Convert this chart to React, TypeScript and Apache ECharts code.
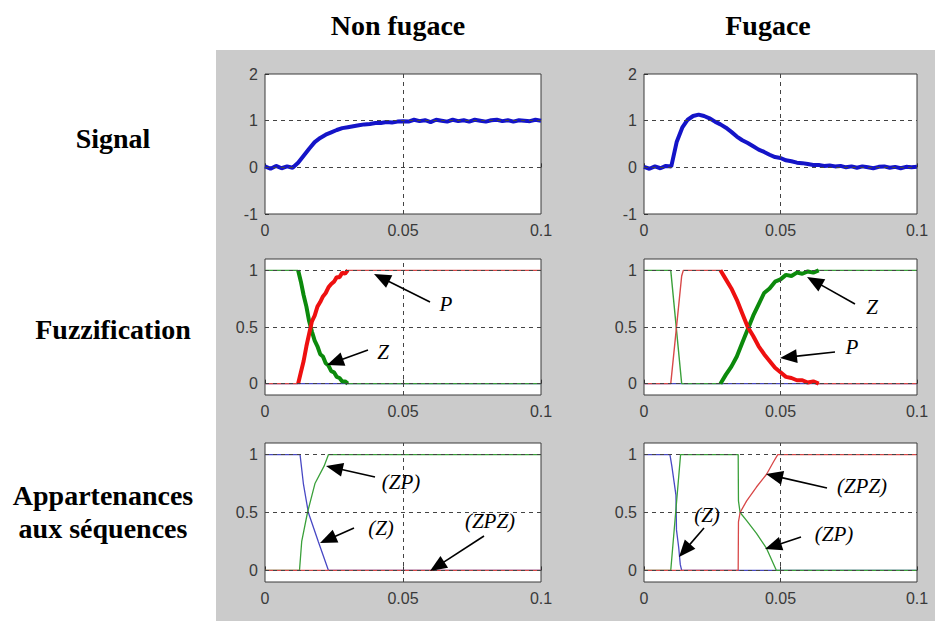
import React, { useEffect, useRef } from "react";
import * as echarts from "echarts";

// ---------- data ----------
const COL_TITLES = ["Non fugace", "Fugace"];
const ROW_TITLES = ["Signal", "Fuzzification", "Appartenances", "aux séquences"];
const X_TICKS = [0, 0.05, 0.1];
const Y_TICKS_SIG = [-1, 0, 1, 2];
const Y_TICKS_MF = [0, 0.5, 1];

// signal sample times
const T_SIG = [
  0, 0.002, 0.004, 0.006, 0.008, 0.01, 0.012, 0.014, 0.016, 0.018, 0.02, 0.022, 0.024, 0.026, 0.028, 0.03,
  0.032, 0.034, 0.036, 0.038, 0.04, 0.042, 0.044, 0.046, 0.048, 0.05, 0.052, 0.054, 0.056, 0.058, 0.06,
  0.062, 0.064, 0.066, 0.068, 0.07, 0.072, 0.074, 0.076, 0.078, 0.08, 0.082, 0.084, 0.086, 0.088, 0.09,
  0.092, 0.094, 0.096, 0.098, 0.1,
];
const SIG_NF = [
  0.02, -0.03, 0.03, -0.02, 0.02, -0.01, 0.1, 0.25, 0.4, 0.54, 0.63, 0.7, 0.75, 0.8, 0.84, 0.86, 0.88, 0.9,
  0.92, 0.93, 0.95, 0.95, 0.97, 0.96, 0.98, 0.99, 0.98, 1.02, 0.99, 1.01, 0.97, 1.02, 1.0, 0.98, 1.02, 0.99,
  1.01, 0.98, 1.02, 1.0, 0.98, 1.01, 1.02, 0.99, 1.01, 0.98, 1.01, 1.0, 0.99, 1.02, 1.0,
];
const SIG_F = [
  0.01, -0.03, 0.02, -0.02, 0.03, 0.02, 0.55, 0.85, 1.02, 1.1, 1.13, 1.1, 1.05, 0.98, 0.92, 0.85, 0.76, 0.66,
  0.58, 0.52, 0.45, 0.38, 0.33, 0.27, 0.22, 0.2, 0.15, 0.13, 0.1, 0.09, 0.07, 0.05, 0.05, 0.03, 0.04, 0.02,
  0.03, 0.0, 0.02, -0.01, 0.02, 0.0, -0.02, 0.01, 0.02, -0.01, 0.01, -0.02, 0.01, 0.0, 0.01,
];

// Fuzzification, non fugace: transition part
const FZ_NF_T = [
  0.012, 0.013, 0.014, 0.015, 0.016, 0.017, 0.018, 0.019, 0.02, 0.021, 0.022, 0.023, 0.024, 0.025, 0.026,
  0.027, 0.028, 0.029, 0.03,
];
const FZ_NF_Z = [1.0, 0.9, 0.78, 0.68, 0.55, 0.46, 0.38, 0.33, 0.26, 0.24, 0.18, 0.16, 0.11, 0.1, 0.06, 0.05, 0.02, 0.02, 0.0];
const FZ_NF_P = [0.0, 0.1, 0.2, 0.33, 0.44, 0.55, 0.6, 0.68, 0.72, 0.77, 0.8, 0.85, 0.88, 0.9, 0.94, 0.94, 0.98, 0.97, 1.0];
const FZ_NF_N = [0, 0];

// Fuzzification, fugace
const FZ_F_EARLY_T = [0, 0.0095, 0.0098, 0.0138, 0.0144];
const FZ_F_Z_EARLY = [1, 1, 1, 0, 0];
const FZ_F_P_EARLY = [0, 0, 0, 0.95, 1];
const FZ_F_T = [
  0.028, 0.03, 0.032, 0.034, 0.036, 0.038, 0.04, 0.042, 0.044, 0.046, 0.048, 0.05, 0.052, 0.054, 0.056, 0.058,
  0.06, 0.062, 0.064,
];
const FZ_F_Z = [0, 0.08, 0.15, 0.24, 0.36, 0.48, 0.6, 0.7, 0.8, 0.84, 0.9, 0.92, 0.96, 0.95, 0.98, 0.97, 0.99, 0.98, 1.0];
const FZ_F_P = [1, 0.92, 0.84, 0.74, 0.62, 0.5, 0.42, 0.33, 0.26, 0.2, 0.14, 0.1, 0.06, 0.05, 0.03, 0.03, 0.01, 0.02, 0];

// Appartenances aux séquences, non fugace
const AP_NF_Z_T = [0, 0.0127, 0.0139, 0.0157, 0.0193, 0.023, 0.1];
const AP_NF_Z = [1, 1, 0.75, 0.5, 0.25, 0, 0];
const AP_NF_ZP_T = [0, 0.0125, 0.0133, 0.0154, 0.0181, 0.0214, 0.023, 0.1];
const AP_NF_ZP = [0, 0, 0.25, 0.5, 0.75, 0.9, 1, 1];
const AP_NF_ZPZ_T = [0, 0.1];
const AP_NF_ZPZ = [0, 0];

// Appartenances aux séquences, fugace
const AP_F_Z_T = [0, 0.0095, 0.0102, 0.0117, 0.0119, 0.0127, 0.0133, 0.0138, 0.1];
const AP_F_Z = [1, 1, 0.9, 0.65, 0.35, 0.2, 0.05, 0, 0];
const AP_F_ZP_T = [0, 0.0098, 0.0134, 0.0345, 0.0346, 0.0352, 0.0376, 0.0412, 0.0449, 0.0485, 0.1];
const AP_F_ZP = [0, 0, 1, 1, 0.6, 0.5, 0.43, 0.32, 0.19, 0, 0];
const AP_F_ZPZ_T = [0, 0.0345, 0.0346, 0.0352, 0.0376, 0.0412, 0.0449, 0.0475, 0.049, 0.1];
const AP_F_ZPZ = [0, 0, 0.42, 0.5, 0.6, 0.72, 0.83, 0.94, 1, 1];

// annotations: [label, labelX, labelY, arrowStartX, arrowStartY, arrowTipX, arrowTipY]
const ANNOTATIONS: [string, number, number, number, number, number, number][] = [
  ["P", 446, 304, 430, 302, 374, 274],
  ["Z", 383, 352, 368, 350, 327, 365],
  ["Z", 872, 307, 855, 304, 807, 277],
  ["P", 852, 347, 835, 352, 780, 358],
  ["(ZP)", 401, 482, 375, 477, 326, 466],
  ["(Z)", 381, 528, 354, 528, 320, 543],
  ["(ZPZ)", 490, 521, 484, 536, 430, 571],
  ["(ZPZ)", 862, 486, 827, 488, 766, 474],
  ["(Z)", 707, 515, 704, 528, 679, 557],
  ["(ZP)", 834, 534, 801, 537, 765, 549],
];

// ---------- layout / styles ----------
const GRIDS = [
  { left: 265, top: 74, width: 276, height: 140 },
  { left: 644, top: 74, width: 273, height: 140 },
  { left: 265, top: 259, width: 276, height: 136 },
  { left: 644, top: 259, width: 273, height: 136 },
  { left: 265, top: 443, width: 276, height: 139 },
  { left: 644, top: 443, width: 273, height: 139 },
];
const BLUE = "#1414c8";
const BLUE_T = "#4848c4";
const GREEN = "#0c8a0c";
const GREEN_T = "#3aa03a";
const RED = "#ee1010";
const RED_T = "#d84848";
const SERIF = '"Liberation Serif", "Times New Roman", serif';
const SANS = '"Liberation Sans", Arial, sans-serif';

const zip = (t: number[], v: number[]) => t.map((x, i) => [x, v[i]]);

function line(gi: number, data: number[][], color: string, width: number, extra: any = {}) {
  return {
    type: "line",
    xAxisIndex: gi,
    yAxisIndex: gi,
    data,
    symbol: "none",
    silent: true,
    animation: false,
    lineStyle: { color, width },
    ...extra,
  };
}

function gridLines(ys: number[]) {
  return {
    markLine: {
      silent: true,
      symbol: "none",
      animation: false,
      label: { show: false },
      lineStyle: { color: "#444", width: 1, type: [4, 4] },
      data: [...ys.map((y) => ({ yAxis: y })), { xAxis: 0.05 }],
    },
  };
}

function arrow(x1: number, y1: number, x2: number, y2: number) {
  const dx = x2 - x1;
  const dy = y2 - y1;
  const L = Math.hypot(dx, dy);
  const ux = dx / L;
  const uy = dy / L;
  const hl = 17;
  const hw = 7;
  const bx = x2 - ux * hl;
  const by = y2 - uy * hl;
  const px = -uy;
  const py = ux;
  return [
    { type: "line", z: 100, shape: { x1, y1, x2: bx + ux * 2, y2: by + uy * 2 }, style: { stroke: "#000", lineWidth: 1.6 } },
    {
      type: "polygon",
      z: 100,
      shape: { points: [[x2, y2], [bx + px * hw, by + py * hw], [bx - px * hw, by - py * hw]] },
      style: { fill: "#000" },
    },
  ];
}

function text(t: string, x: number, y: number, size: number, bold: boolean, italic: boolean) {
  return {
    type: "text",
    z: 100,
    x,
    y,
    style: {
      text: t,
      fill: "#000",
      fontSize: size,
      fontFamily: SERIF,
      fontWeight: bold ? "bold" : "normal",
      fontStyle: italic ? "italic" : "normal",
      align: "center",
      verticalAlign: "middle",
      textAlign: "center",
      textVerticalAlign: "middle",
    },
  };
}

function buildOption() {
  const xAxis = GRIDS.map((_, i) => ({
    type: "value",
    gridIndex: i,
    min: 0,
    max: 0.1,
    interval: 0.05,
    splitLine: { show: false },
    axisLine: { show: false },
    axisTick: { show: true, inside: true, length: 4, lineStyle: { color: "#333" } },
    axisLabel: {
      margin: 8,
      fontSize: 16,
      color: "#3a3a3a",
      fontFamily: SANS,
      formatter: (v: number) => {
        const k = X_TICKS.findIndex((t) => Math.abs(t - v) < 1e-9);
        return k === 0 ? "0" : k === 1 ? "0.05" : k === 2 ? "0.1" : "";
      },
    },
  }));
  const yAxis = GRIDS.map((_, i) => {
    const base: any = {
      type: "value",
      gridIndex: i,
      splitLine: { show: false },
      axisLine: { show: false },
    };
    if (i < 2) {
      return {
        ...base,
        min: Y_TICKS_SIG[0],
        max: Y_TICKS_SIG[3],
        interval: 1,
        axisTick: { show: true, inside: true, length: 4, lineStyle: { color: "#333" } },
        axisLabel: { margin: 7, fontSize: 16, color: "#3a3a3a", fontFamily: SANS },
      };
    }
    return {
      ...base,
      min: -0.1,
      max: 1.1,
      axisTick: { show: true, inside: true, length: 4, customValues: Y_TICKS_MF, lineStyle: { color: "#333" } },
      axisLabel: {
        margin: 7,
        fontSize: 16,
        color: "#3a3a3a",
        fontFamily: SANS,
        customValues: Y_TICKS_MF,
        formatter: (v: number) => (Math.abs(v - 0.5) < 1e-9 ? "0.5" : String(Math.round(v))),
      },
    };
  });

  const series: any[] = [
    // row 1: signals
    line(0, zip(T_SIG, SIG_NF), BLUE, 4, gridLines([0, 1])),
    line(1, zip(T_SIG, SIG_F), BLUE, 4, gridLines([0, 1])),

    // row 2: fuzzification non fugace
    line(2, zip([0, 0.1], FZ_NF_N), BLUE_T, 1.2, gridLines([0, 0.5, 1])),
    line(2, [[0, 1], ...zip(FZ_NF_T, FZ_NF_Z), [0.1, 0]], GREEN_T, 1.2),
    line(2, zip(FZ_NF_T, FZ_NF_Z), GREEN, 4),
    line(2, [[0, 0], ...zip(FZ_NF_T, FZ_NF_P), [0.1, 1]], RED_T, 1.2),
    line(2, zip(FZ_NF_T, FZ_NF_P), RED, 4),

    // row 2: fuzzification fugace
    line(3, zip([0, 0.1], FZ_NF_N), BLUE_T, 1.2, gridLines([0, 0.5, 1])),
    line(3, [...zip(FZ_F_EARLY_T, FZ_F_Z_EARLY), ...zip(FZ_F_T, FZ_F_Z), [0.1, 1]], GREEN_T, 1.4),
    line(3, zip(FZ_F_T, FZ_F_Z), GREEN, 4),
    line(3, [...zip(FZ_F_EARLY_T, FZ_F_P_EARLY), ...zip(FZ_F_T, FZ_F_P), [0.1, 0]], RED_T, 1.4),
    line(3, zip(FZ_F_T, FZ_F_P), RED, 4),

    // row 3: appartenances non fugace
    line(4, zip(AP_NF_Z_T, AP_NF_Z), BLUE_T, 1.3, gridLines([0, 0.5, 1])),
    line(4, zip(AP_NF_ZP_T, AP_NF_ZP), GREEN_T, 1.3),
    line(4, zip(AP_NF_ZPZ_T, AP_NF_ZPZ), RED_T, 1.3),

    // row 3: appartenances fugace
    line(5, zip(AP_F_Z_T, AP_F_Z), BLUE_T, 1.3, gridLines([0, 0.5, 1])),
    line(5, zip(AP_F_ZP_T, AP_F_ZP), GREEN_T, 1.3),
    line(5, zip(AP_F_ZPZ_T, AP_F_ZPZ), RED_T, 1.3),
  ];

  const graphics: any[] = [
    text(COL_TITLES[0], 398, 25, 28, true, false),
    text(COL_TITLES[1], 768, 25, 28, true, false),
    text(ROW_TITLES[0], 113, 138, 28, true, false),
    text(ROW_TITLES[1], 113, 329, 28, true, false),
    text(ROW_TITLES[2], 103, 495, 28, true, false),
    text(ROW_TITLES[3], 103, 528, 28, true, false),
  ];
  ANNOTATIONS.forEach(([label, lx, ly, sx, sy, tx, ty]) => {
    graphics.push(...arrow(sx, sy, tx, ty));
    graphics.push(text(label, lx, ly, 21, false, true));
  });

  return {
    animation: false,
    backgroundColor: "transparent",
    grid: GRIDS.map((g) => ({
      ...g,
      show: true,
      backgroundColor: "#ffffff",
      borderColor: "#3a3a3a",
      borderWidth: 1,
      containLabel: false,
    })),
    xAxis,
    yAxis,
    series,
    graphic: { elements: graphics },
  };
}

export default function App() {
  const ref = useRef<HTMLDivElement>(null);
  useEffect(() => {
    if (!ref.current) return;
    const chart = echarts.init(ref.current, null, { renderer: "svg", width: 937, height: 623 });
    chart.setOption(buildOption() as any);
    return () => chart.dispose();
  }, []);
  return (
    <div style={{ position: "fixed", left: 0, top: 0, width: 937, height: 623, background: "#ffffff" }}>
      <div style={{ position: "absolute", left: 216, top: 50, width: 719, height: 571, background: "#cbcbcb" }} />
      <div ref={ref} style={{ position: "absolute", left: 0, top: 0, width: 937, height: 623 }} />
    </div>
  );
}
